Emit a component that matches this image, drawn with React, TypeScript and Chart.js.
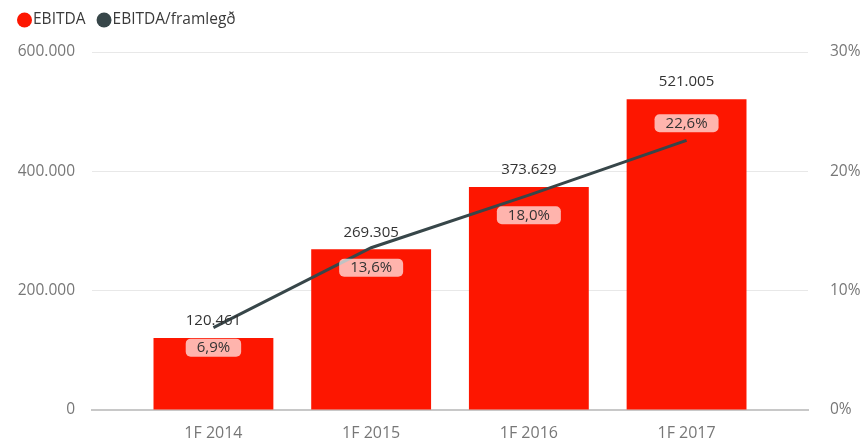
import React, { useEffect, useRef } from 'react';
import { Chart, registerables } from 'chart.js';
Chart.register(...registerables);

const categories = ['1F 2014', '1F 2015', '1F 2016', '1F 2017'];
const ebitda = [120461, 269305, 373629, 521005];
const margin = [6.9, 13.6, 18.0, 22.6];
const leftTicks = [0, 200000, 400000, 600000];
const rightTicks = [0, 10, 20, 30];
const seriesNames = ['EBITDA', 'EBITDA/framlegð'];

const FONT = '"Segoe UI", "Open Sans", "Noto Sans", sans-serif';
const BAR_COLOR = '#FD1600';
const LINE_COLOR = '#374649';

const fmtThousands = (n: number) => String(Math.round(n)).replace(/\B(?=(\d{3})+(?!\d))/g, '.');
const fmtPct = (n: number) => n.toFixed(1).replace('.', ',') + '%';

const labelsPlugin = {
  id: 'customLabels',
  afterDatasetsDraw(chart: any) {
    const ctx = chart.ctx as CanvasRenderingContext2D;
    const barMeta = chart.getDatasetMeta(0);
    const lineMeta = chart.getDatasetMeta(1);
    ctx.save();
    ctx.font = `15px ${FONT}`;
    ctx.textAlign = 'center';
    ctx.textBaseline = 'middle';
    barMeta.data.forEach((el: any, i: number) => {
      ctx.fillStyle = '#333333';
      ctx.fillText(fmtThousands(ebitda[i]), el.x, el.y - 17);
    });
    const last = lineMeta.data.length - 1;
    lineMeta.data.forEach((el: any, i: number) => {
      const text = fmtPct(margin[i]);
      const w = ctx.measureText(text).width + 22;
      const h = 18;
      const cy = i === last ? el.y - 17 : el.y + 20;
      const x0 = el.x - w / 2;
      const y0 = cy - h / 2;
      ctx.fillStyle = 'rgba(255,255,255,0.68)';
      ctx.beginPath();
      (ctx as any).roundRect(x0, y0, w, h, 5);
      ctx.fill();
      ctx.fillStyle = '#333333';
      ctx.fillText(text, el.x, cy + 0.5);
    });
    ctx.restore();
  },
  afterDraw(chart: any) {
    const ctx = chart.ctx as CanvasRenderingContext2D;
    ctx.save();
    ctx.font = `15.5px ${FONT}`;
    ctx.textAlign = 'left';
    ctx.textBaseline = 'middle';
    let x = 17;
    const y = 20;
    const r = 7.5;
    const colors = [BAR_COLOR, LINE_COLOR];
    seriesNames.forEach((name, i) => {
      ctx.fillStyle = colors[i];
      ctx.beginPath();
      ctx.arc(x + r, y, r, 0, Math.PI * 2);
      ctx.fill();
      ctx.fillStyle = '#3a3a3a';
      ctx.fillText(name, x + 2 * r + 1, y);
      x += 2 * r + 1 + ctx.measureText(name).width + 11;
    });
    ctx.restore();
  },
};

export default function App() {
  const canvasRef = useRef<HTMLCanvasElement>(null);
  useEffect(() => {
    document.body.style.margin = '0';
    const canvas = canvasRef.current;
    if (!canvas) return;
    const chart = new Chart(canvas, {
      type: 'bar',
      data: {
        datasets: [
          {
            type: 'bar',
            label: seriesNames[0],
            data: ebitda.map((v, i) => ({ x: i, y: v })),
            backgroundColor: BAR_COLOR,
            yAxisID: 'y',
            categoryPercentage: 1,
            barPercentage: 0.76,
            order: 2,
          },
          {
            type: 'line',
            label: seriesNames[1],
            data: margin.map((v, i) => ({ x: i, y: v })),
            borderColor: LINE_COLOR,
            backgroundColor: LINE_COLOR,
            borderWidth: 3,
            pointRadius: 0,
            tension: 0,
            yAxisID: 'y1',
            order: 1,
          },
        ] as any,
      },
      options: {
        animation: false,
        responsive: false,
        maintainAspectRatio: false,
        layout: { padding: { top: 52, left: 0, right: 0, bottom: 0 } },
        plugins: { legend: { display: false }, tooltip: { enabled: false } },
        scales: {
          x: {
            type: 'linear',
            min: -0.77,
            max: 3.77,
            offset: false,
            afterBuildTicks: (s: any) => {
              s.ticks = categories.map((_, i) => ({ value: i }));
            },
            afterFit: (s: any) => {
              s.height = 34;
            },
            ticks: {
              callback: (v: any) => categories[v as number] ?? '',
              color: '#777777',
              font: { family: FONT, size: 16 },
              padding: 14,
              maxRotation: 0,
              autoSkip: false,
            },
            grid: { display: false, drawTicks: false },
            border: { display: true, color: '#c8c8c8', width: 2 },
          },
          y: {
            type: 'linear',
            position: 'left',
            min: 0,
            max: 600000,
            afterBuildTicks: (s: any) => {
              s.ticks = leftTicks.map((v) => ({ value: v }));
            },
            afterFit: (s: any) => {
              s.width = 92;
            },
            ticks: {
              callback: (v: any) => fmtThousands(Number(v)),
              color: '#777777',
              font: { family: FONT, size: 15.5 },
              padding: 17,
            },
            grid: {
              drawTicks: false,
              color: (c: any) => (c.tick && c.tick.value === 0 ? 'rgba(0,0,0,0)' : '#e8e8e8'),
              lineWidth: 1,
            },
            border: { display: false },
          },
          y1: {
            type: 'linear',
            position: 'right',
            min: 0,
            max: 30,
            afterBuildTicks: (s: any) => {
              s.ticks = rightTicks.map((v) => ({ value: v }));
            },
            afterFit: (s: any) => {
              s.width = 58;
            },
            ticks: {
              callback: (v: any) => `${v}%`,
              color: '#777777',
              font: { family: FONT, size: 15.5 },
              padding: 22,
            },
            grid: { drawOnChartArea: false, drawTicks: false },
            border: { display: false },
          },
        },
      },
      plugins: [labelsPlugin],
    } as any);
    return () => chart.destroy();
  }, []);
  return (
    <div style={{ width: 866, height: 444 }}>
      <canvas ref={canvasRef} width={866} height={444} />
    </div>
  );
}
